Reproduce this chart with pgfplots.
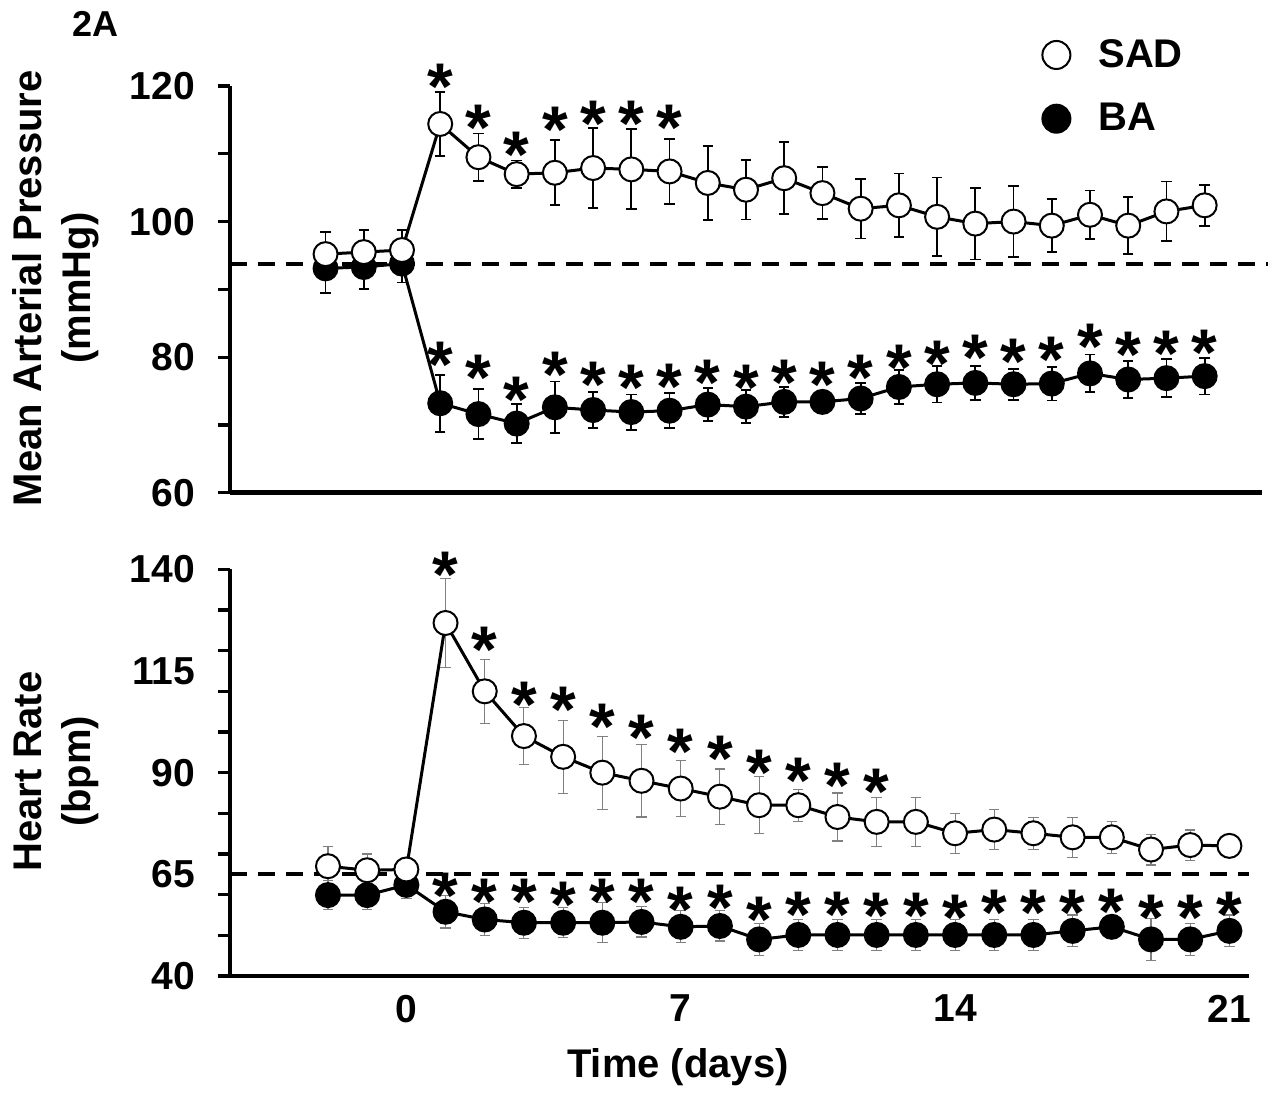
\documentclass[border=0pt]{standalone}
\usepackage{fontspec}
\setmainfont{Liberation Sans}
\usepackage{pgfplots}
\pgfplotsset{compat=1.18}

\pgfplotsset{
  panel/.style={
    scale only axis,
    axis lines=left,
    axis line style={line width=2.3pt, -},
    every tick/.style={black, line width=1.6pt},
    tick align=outside,
    major tick length=6pt,
    minor tick length=3.8pt,
    xmin=-4.5,
    xtick=\empty,
    clip=false,
    /pgf/number format/assume math mode=true,
    tick label style={font=\fontsize{19.5}{21}\selectfont\bfseries},
    yticklabel style={xshift=-8pt},
    label style={font=\fontsize{20}{24.5}\selectfont\bfseries},
    ylabel style={align=center, anchor=center},
  },
  sad/.style={black, line width=1.5pt, mark=*, mark size=6pt,
    mark options={fill=white, draw=black, line width=1pt, solid}},
  ba/.style={black, line width=1.5pt, mark=*, mark size=6pt,
    mark options={fill=black, draw=black, line width=1pt, solid}},
  ebtop/.style={error bars/.cd, y dir=both, y explicit,
    error bar style={line width=0.9pt, black},
    error mark options={rotate=90, line width=0.9pt, mark size=2.6pt, black}},
  ebbot/.style={error bars/.cd, y dir=both, y explicit,
    error bar style={line width=0.55pt, black!50},
    error mark options={rotate=90, line width=0.55pt, mark size=2.6pt, black!50}},
  star/.style={draw=none, mark=none, forget plot, nodes near coords={*},
    every node near coord/.style={anchor=center, yshift=-6.5pt, inner sep=0pt,
      font=\fontsize{33}{33}\selectfont\bfseries}},
}

\begin{document}
\begin{tikzpicture}
\useasboundingbox (0,0) rectangle (637.5pt,-550pt);

% ---- top panel: mean arterial pressure
\begin{axis}[panel,
  at={(115pt,-246.35pt)}, anchor=south west,
  width=516pt, height=203.35pt,
  xmax=22.5, minor xtick={-4.5,-3.5,...,22.6},
  ymin=60, ymax=120,
  ytick={60,70,...,120}, yticklabels={60,,80,,100,,120},
  ylabel={Mean Arterial Pressure\\(mmHg)},
  ylabel style={at={(axis description cs:-0.1686,0.503)}},
  legend style={at={(axis description cs:0.781,1.135)}, anchor=north west,
    draw=none, fill=none, font=\fontsize{20}{24}\selectfont\bfseries,
    row sep=12.5pt, legend cell align=left,
    /tikz/every odd column/.append style={column sep=12pt}},
]
\addplot[black, line width=2pt, dash pattern=on 8.5pt off 5.5pt, forget plot]
  coordinates {(-4.5,93.7) (22.66,93.7)};

\addplot[ba, forget plot, ebtop] coordinates {
  (-2,93.1) +- (0,3.6) (-1,93.3) +- (0,3.3) (0,93.8) +- (0,2.8)
  (1,73.2) +- (0,4.2) (2,71.6) +- (0,3.7) (3,70.2) +- (0,2.9)
  (4,72.6) +- (0,3.8) (5,72.2) +- (0,2.6) (6,71.9) +- (0,2.6)
  (7,72.1) +- (0,2.6) (8,73.0) +- (0,2.4) (9,72.7) +- (0,2.4)
  (10,73.4) +- (0,2.2) (11,73.4) +- (0,1.6) (12,73.9) +- (0,2.3)
  (13,75.6) +- (0,2.5) (14,76.0) +- (0,2.7) (15,76.2) +- (0,2.5)
  (16,76.0) +- (0,2.3) (17,76.1) +- (0,2.5) (18,77.6) +- (0,2.8)
  (19,76.7) +- (0,2.7) (20,76.9) +- (0,2.8) (21,77.2) +- (0,2.7)};

\addplot[sad, forget plot, ebtop] coordinates {
  (-2,95.2) +- (0,3.3) (-1,95.5) +- (0,3.3) (0,95.8) +- (0,3.0)
  (1,114.4) +- (0,4.7) (2,109.5) +- (0,3.5) (3,107.0) +- (0,2.0)
  (4,107.2) +- (0,4.8) (5,107.9) +- (0,5.9) (6,107.7) +- (0,5.9)
  (7,107.4) +- (0,4.8) (8,105.7) +- (0,5.5) (9,104.7) +- (0,4.4)
  (10,106.4) +- (0,5.3) (11,104.2) +- (0,3.8) (12,101.9) +- (0,4.4)
  (13,102.4) +- (0,4.7) (14,100.7) +- (0,5.8) (15,99.7) +- (0,5.3)
  (16,100.0) +- (0,5.2) (17,99.4) +- (0,3.9) (18,101.0) +- (0,3.6)
  (19,99.4) +- (0,4.2) (20,101.5) +- (0,4.4) (21,102.4) +- (0,3.0)};

% significance marks
\addplot[star] coordinates {(1,121.8) (2,115.7) (3,111.8) (4,115.5) (5,116.4) (6,116.3) (7,115.7)};
\addplot[star] coordinates {(1,80.8) (2,78.8) (3,75.6) (4,79.3) (5,77.8) (6,77.4) (7,77.6)
  (8,78.1) (9,77.4) (10,78.1) (11,77.8) (12,78.8) (13,80.3) (14,81.0) (15,81.8)
  (16,81.3) (17,81.5) (18,83.5) (19,82.3) (20,82.4) (21,82.6)};

\addlegendimage{only marks, mark=*, mark size=7pt, mark options={fill=white, draw=black, line width=1pt}}
\addlegendentry{SAD}
\addlegendimage{only marks, mark=*, mark size=7pt, mark options={fill=black, draw=black, line width=1pt}}
\addlegendentry{BA}

\node[font=\fontsize{18}{20}\selectfont\bfseries] at (axis description cs:-0.1308,1.152) {2A};
\end{axis}

% ---- bottom panel: heart rate
\begin{axis}[panel,
  at={(115pt,-488pt)}, anchor=south west,
  width=509.5pt, height=203.35pt,
  xmax=21.5, minor xtick={-4.5,-3.5,...,21.6},
  extra x ticks={0,7,14,21}, extra x tick labels={0,7,14,21},
  extra x tick style={tick style={draw=none}},
  ymin=40, ymax=140,
  ytick={40,50,...,140}, yticklabels={40,,,,,90,,,,,140},
  extra y ticks={65,115}, extra y tick labels={65,115},
  extra y tick style={tick style={draw=none}},
  xlabel={Time (days)},
  xlabel style={at={(axis description cs:0.4396,-0.225)}, anchor=center},
  ylabel={Heart Rate\\(bpm)},
  ylabel style={at={(axis description cs:-0.1708,0.503)}},
]
\addplot[black, line width=2pt, dash pattern=on 8.5pt off 5.5pt, forget plot]
  coordinates {(-4.5,65) (21.5,65)};

\addplot[ba, forget plot, ebbot] coordinates {
  (-2,59.9) +- (0,3.6) (-1,59.9) +- (0,3.6) (0,62.4) +- (0,3.3)
  (1,55.8) +- (0,4.0) (2,53.9) +- (0,4.0) (3,53.1) +- (0,3.8)
  (4,53.1) +- (0,3.7) (5,53.1) +- (0,4.9) (6,53.3) +- (0,3.7)
  (7,52.1) +- (0,3.9) (8,52.3) +- (0,3.7) (9,49.0) +- (0,3.9)
  (10,50.1) +- (0,3.8) (11,50.1) +- (0,3.8) (12,50.1) +- (0,3.8)
  (13,50.1) +- (0,3.8) (14,50.1) +- (0,3.8) (15,50.1) +- (0,3.8)
  (16,50.1) +- (0,3.8) (17,51.1) +- (0,3.9) (18,52.1) +- (0,1.5)
  (19,49.0) +- (0,5.1) (20,49.0) +- (0,3.9) (21,51.1) +- (0,3.9)};

\addplot[sad, forget plot, ebbot] coordinates {
  (-2,67.0) +- (0,4.9) (-1,66.0) +- (0,4.0) (0,66.2) +- (0,1.5)
  (1,126.8) +- (0,11.0) (2,110.0) +- (0,7.9) (3,99.0) +- (0,7.0)
  (4,93.9) +- (0,9.0) (5,90.0) +- (0,9.0) (6,88.0) +- (0,8.9)
  (7,86.1) +- (0,6.8) (8,84.1) +- (0,6.8) (9,82.0) +- (0,7.0)
  (10,82.0) +- (0,3.9) (11,79.1) +- (0,5.9) (12,77.9) +- (0,6.0)
  (13,77.9) +- (0,6.0) (14,75.1) +- (0,4.9) (15,76.0) +- (0,5.0)
  (16,75.1) +- (0,3.9) (17,74.1) +- (0,4.9) (18,74.1) +- (0,3.9)
  (19,71.1) +- (0,3.8) (20,72.2) +- (0,3.7) (21,72.0) +- (0,1.5)};

\addplot[star] coordinates {(1,141.8) (2,123.5) (3,109.9) (4,108.6) (5,104.5) (6,101.7)
  (7,98.4) (8,96.5) (9,93.1) (10,91.3) (11,90.0) (12,88.6)};
\addplot[star] coordinates {(1,62.8) (2,61.5) (3,61.5) (4,60.7) (5,61.5) (6,61.5) (7,59.5)
  (8,59.9) (9,57.0) (10,58.3) (11,58.3) (12,57.9) (13,58.0) (14,57.4) (15,58.7)
  (16,58.7) (17,58.7) (18,59.1) (19,57.4) (20,57.4) (21,58.3)};
\end{axis}
\end{tikzpicture}
\end{document}
